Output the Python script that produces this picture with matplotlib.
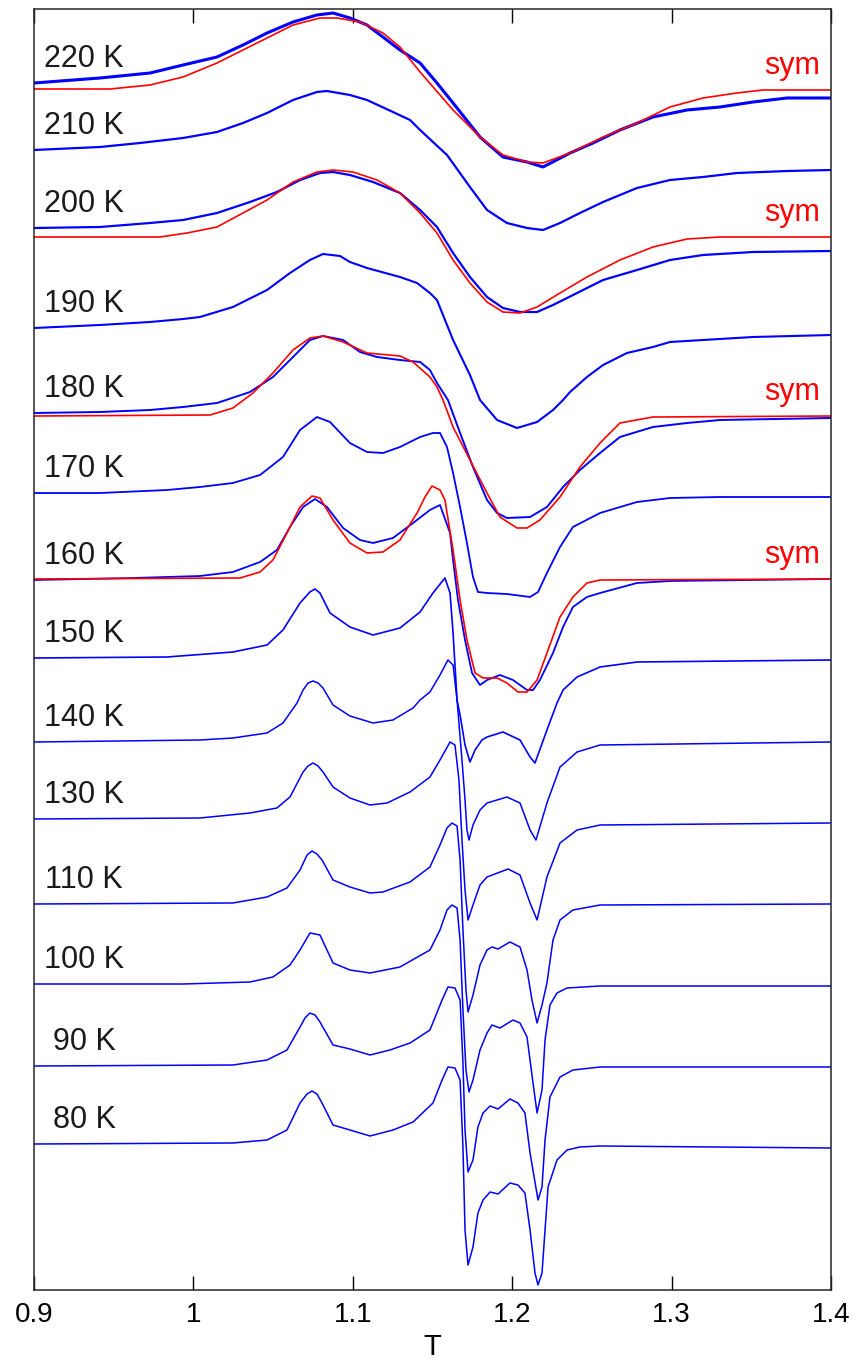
import numpy as np
import matplotlib.pyplot as plt

plt.rcParams['font.family'] = ['Liberation Sans', 'DejaVu Sans']

# spectra: field in T, signal (a.u.) relative to each
# trace's own left baseline; traces are stacked with the offsets below
x_220 = [0.9, 0.9414, 0.9728, 0.9935, 1.0148, 1.0311, 1.0462, 1.0625, 1.0775, 1.0876,
         1.0982, 1.1089, 1.1189, 1.1296, 1.1422, 1.1528, 1.1629, 1.1798, 1.1942, 1.2093,
         1.2193, 1.2363, 1.2507, 1.2676, 1.2883, 1.3097, 1.3304, 1.3511, 1.3724, 1.4]
s_220 = [0, 5, 10, 18, 26, 38, 50, 61, 68, 70,
         65, 58, 46, 33, 20, 0, -20, -54, -74, -79,
         -84, -70, -60, -47, -34, -27, -24, -19, -15, -15]

x_210 = [0.9, 0.9414, 0.9665, 0.9935, 1.0148, 1.0311, 1.0462, 1.0625, 1.0775, 1.0838,
         1.0982, 1.1089, 1.1252, 1.1359, 1.1422, 1.1503, 1.1591, 1.1735, 1.1842, 1.1967,
         1.2093, 1.2193, 1.2300, 1.2425, 1.2570, 1.2783, 1.2990, 1.3197, 1.3410, 1.3724, 1.4]
s_210 = [0, 3, 7, 12, 18, 27, 37, 50, 58, 59,
         55, 50, 38, 30, 20, 8, -5, -37, -60, -73,
         -78, -80, -73, -63, -52, -38, -30, -27, -23, -21, -20]

x_200 = [0.9, 0.9414, 0.9728, 0.9935, 1.0148, 1.0355, 1.0524, 1.0669, 1.0794, 1.0876,
         1.0982, 1.1127, 1.1296, 1.1422, 1.1528, 1.1629, 1.1735, 1.1842, 1.1942, 1.2049,
         1.2156, 1.2256, 1.2407, 1.2570, 1.2783, 1.2990, 1.3197, 1.3511, 1.4]
s_200 = [0, 1, 5, 8, 15, 26, 36, 48, 55, 56,
         53, 46, 35, 18, 1, -25, -49, -69, -80, -84,
         -84, -77, -65, -52, -42, -32, -27, -24, -23]

x_190 = [0.9, 0.9414, 0.9728, 0.9935, 1.0041, 1.0248, 1.0462, 1.0606, 1.0731, 1.0813,
         1.0920, 1.0982, 1.1089, 1.1296, 1.1403, 1.1484, 1.1528, 1.1629, 1.1735, 1.1798,
         1.1905, 1.2030, 1.2156, 1.2256, 1.2319, 1.2363, 1.2469, 1.2570, 1.2720, 1.2883,
         1.2990, 1.3197, 1.3511, 1.4]
s_190 = [0, 3, 6, 9, 11, 21, 38, 55, 68, 74,
         72, 66, 60, 51, 45, 35, 28, -12, -47, -72,
         -92, -100, -94, -82, -72, -64, -49, -37, -25, -19,
         -14, -12, -9, -7]

x_180 = [0.9, 0.9414, 0.9728, 0.9935, 1.0148, 1.0355, 1.0499, 1.0625, 1.0731, 1.0813,
         1.0939, 1.1045, 1.1152, 1.1296, 1.1422, 1.1484, 1.1528, 1.1597, 1.1673, 1.1754,
         1.1842, 1.1905, 1.1967, 1.2112, 1.2218, 1.2319, 1.2425, 1.2551, 1.2676, 1.2883,
         1.3097, 1.3304, 1.4]
s_180 = [0, 1, 3, 6, 10, 21, 36, 56, 73, 77,
         73, 61, 56, 53, 51, 43, 30, 13, -20, -54,
         -87, -100, -105, -104, -94, -74, -57, -40, -24, -14,
         -10, -7, -5]

x_170 = [0.9, 0.9414, 0.9834, 1.0041, 1.0248, 1.0418, 1.0562, 1.0669, 1.0775, 1.0857,
         1.0982, 1.1089, 1.1189, 1.1296, 1.1422, 1.1503, 1.1547, 1.1591, 1.1629, 1.1673,
         1.1716, 1.1754, 1.1785, 1.1842, 1.1967, 1.2112, 1.2162, 1.2218, 1.2300, 1.2381,
         1.2551, 1.2783, 1.2990, 1.3304, 1.4]
s_170 = [0, 0, 3, 6, 10, 18, 36, 63, 76, 71,
         50, 41, 40, 46, 56, 60, 60, 46, 20, -14,
         -50, -84, -99, -100, -101, -104, -99, -80, -54, -34,
         -20, -9, -5, -4, -4]

x_160 = [0.9, 0.9621, 1.0041, 1.0248, 1.0418, 1.0524, 1.0606, 1.0688, 1.0763, 1.0838,
         1.0939, 1.1045, 1.1127, 1.1252, 1.1378, 1.1484, 1.1547, 1.1610, 1.1629, 1.1660,
         1.1704, 1.1748, 1.1798, 1.1842, 1.1923, 1.2005, 1.2093, 1.2131, 1.2174, 1.2256,
         1.2319, 1.2381, 1.2469, 1.2551, 1.2783, 1.2990, 1.4]
s_160 = [0, 2, 4, 8, 18, 30, 53, 73, 81, 73,
         52, 40, 37, 42, 57, 70, 75, 47, 20, -20,
         -60, -93, -105, -100, -95, -100, -110, -110, -100, -73,
         -47, -27, -17, -13, -3, -1, 1]

x_150 = [0.9, 0.9834, 1.0248, 1.0462, 1.0562, 1.0669, 1.0731, 1.0763, 1.0794, 1.0857,
         1.0982, 1.1127, 1.1296, 1.1422, 1.1503, 1.1578, 1.1610, 1.1629, 1.1654, 1.1673,
         1.1704, 1.1735, 1.1767, 1.1810, 1.1842, 1.1942, 1.2049, 1.2112, 1.2143, 1.2218,
         1.2281, 1.2319, 1.2407, 1.2551, 1.2783, 1.4]
s_150 = [0, 1, 6, 13, 28, 55, 66, 69, 65, 45,
         31, 23, 30, 46, 65, 80, 65, 25, -42, -57,
         -87, -104, -92, -82, -79, -74, -82, -99, -105, -72,
         -45, -32, -19, -9, -4, -2]

x_140 = [0.9, 1.0041, 1.0248, 1.0462, 1.0562, 1.0650, 1.0688, 1.0719, 1.0750, 1.0782,
         1.0813, 1.0876, 1.0982, 1.1127, 1.1252, 1.1378, 1.1422, 1.1484, 1.1547, 1.1597,
         1.1629, 1.1654, 1.1685, 1.1704, 1.1716, 1.1729, 1.1754, 1.1798, 1.1842, 1.1967,
         1.2049, 1.2112, 1.2149, 1.2218, 1.2300, 1.2407, 1.2551, 1.4]
s_140 = [0, 2, 4, 9, 19, 39, 52, 59, 61, 59,
         54, 37, 26, 19, 22, 34, 42, 50, 67, 82,
         77, 42, -18, -58, -88, -98, -83, -68, -61, -55,
         -61, -88, -98, -61, -25, -10, -3, 0]

x_130 = [0.9, 1.0041, 1.0355, 1.0524, 1.0606, 1.0688, 1.0719, 1.0750, 1.0782, 1.0813,
         1.0876, 1.0982, 1.1108, 1.1215, 1.1359, 1.1484, 1.1547, 1.1610, 1.1641, 1.1666,
         1.1685, 1.1704, 1.1723, 1.1754, 1.1798, 1.1842, 1.1974, 1.2049, 1.2112, 1.2156,
         1.2218, 1.2300, 1.2407, 1.2551, 1.4]
s_130 = [0, 1, 6, 11, 22, 47, 53, 56, 53, 47,
         32, 21, 14, 16, 27, 42, 59, 77, 74, 39,
         -21, -71, -101, -86, -66, -58, -50, -56, -84, -101,
         -58, -24, -11, -6, -4]

x_110 = [0.9, 1.0248, 1.0462, 1.0587, 1.0669, 1.0713, 1.0744, 1.0775, 1.0807, 1.0876,
         1.0982, 1.1108, 1.1189, 1.1359, 1.1484, 1.1547, 1.1591, 1.1622, 1.1654, 1.1673,
         1.1691, 1.1710, 1.1723, 1.1754, 1.1798, 1.1842, 1.1873, 1.1911, 1.1986, 1.2049,
         1.2093, 1.2124, 1.2156, 1.2187, 1.2218, 1.2256, 1.2300, 1.2381, 1.2551, 1.4]
s_110 = [0, 1, 7, 16, 34, 49, 53, 50, 44, 24,
         17, 11, 12, 22, 37, 59, 76, 81, 78, 44,
         -26, -86, -108, -91, -61, -46, -43, -45, -38, -43,
         -66, -96, -119, -101, -79, -36, -16, -6, -1, 0]

x_100 = [0.9, 0.9935, 1.0355, 1.0499, 1.0606, 1.0669, 1.0731, 1.0794, 1.0876, 1.0982,
         1.1108, 1.1296, 1.1484, 1.1547, 1.1591, 1.1622, 1.1654, 1.1673, 1.1691, 1.1710,
         1.1729, 1.1754, 1.1798, 1.1842, 1.1873, 1.1923, 1.2005, 1.2049, 1.2093, 1.2124,
         1.2156, 1.2187, 1.2206, 1.2237, 1.2281, 1.2344, 1.2551, 1.4]
s_100 = [0, 0, 2, 7, 19, 34, 51, 49, 21, 14,
         11, 17, 34, 54, 74, 79, 76, 44, -26, -86,
         -108, -96, -66, -49, -41, -44, -36, -39, -53, -91,
         -129, -106, -56, -21, -9, -4, -2, -2]

x_90 = [0.9, 1.0248, 1.0462, 1.0587, 1.0669, 1.0700, 1.0731, 1.0763, 1.0794, 1.0876,
        1.0982, 1.1108, 1.1233, 1.1359, 1.1484, 1.1560, 1.1597, 1.1641, 1.1673, 1.1691,
        1.1704, 1.1723, 1.1754, 1.1785, 1.1817, 1.1861, 1.1911, 1.1986, 1.2036, 1.2080,
        1.2112, 1.2162, 1.2187, 1.2206, 1.2237, 1.2300, 1.2381, 1.2551, 1.4]
s_90 = [0, 1, 6, 16, 39, 48, 53, 51, 44, 21,
        17, 11, 16, 23, 36, 66, 79, 78, 66, 3,
        -64, -106, -94, -61, -47, -40, -43, -33, -37, -47,
        -87, -134, -121, -74, -31, -11, -4, -1, -1]

x_80 = [0.9, 1.0248, 1.0462, 1.0587, 1.0669, 1.0713, 1.0744, 1.0775, 1.0807, 1.0876,
        1.0982, 1.1108, 1.1252, 1.1378, 1.1503, 1.1560, 1.1597, 1.1641, 1.1673, 1.1691,
        1.1704, 1.1723, 1.1754, 1.1785, 1.1817, 1.1861, 1.1911, 1.1986, 1.2036, 1.2080,
        1.2112, 1.2143, 1.2162, 1.2187, 1.2206, 1.2225, 1.2281, 1.2344, 1.2425, 1.2551, 1.4]
s_80 = [0, 1, 4, 14, 41, 50, 53, 50, 41, 19,
        14, 8, 14, 22, 41, 64, 77, 76, 64, -3,
        -86, -121, -103, -69, -56, -48, -50, -39, -41, -49,
        -86, -129, -141, -129, -86, -43, -16, -6, -3, -2, -4]

# symmetric-lineshape fits (red), same offsets as the matching spectra
xf_220 = [0.9, 0.9477, 0.9728, 0.9935, 1.0148, 1.0311, 1.0462, 1.0625, 1.0794, 1.0901,
          1.1045, 1.1189, 1.1296, 1.1422, 1.1629, 1.1798, 1.1942, 1.2093, 1.2193, 1.2363,
          1.2570, 1.2783, 1.2990, 1.3197, 1.3410, 1.3573, 1.4]
sf_220 = [-6, -6, -2, 6, 20, 33, 45, 58, 65, 65,
          61, 50, 36, 11, -27, -54, -72, -79, -80, -70,
          -54, -40, -24, -15, -10, -7, -7]

xf_200 = [0.9, 0.9790, 0.9960, 1.0148, 1.0311, 1.0462, 1.0625, 1.0775, 1.0876, 1.1001,
          1.1152, 1.1296, 1.1422, 1.1528, 1.1629, 1.1735, 1.1842, 1.1942, 1.2049, 1.2156,
          1.2300, 1.2469, 1.2676, 1.2883, 1.3097, 1.3304, 1.4]
sf_200 = [-9, -9, -5, 1, 15, 28, 46, 56, 58, 56,
          48, 35, 15, -5, -32, -55, -74, -84, -85, -79,
          -65, -49, -32, -19, -11, -9, -9]

xf_180 = [0.9, 1.0104, 1.0248, 1.0374, 1.0499, 1.0625, 1.0731, 1.0813, 1.0939, 1.1089,
          1.1296, 1.1378, 1.1484, 1.1528, 1.1566, 1.1629, 1.1735, 1.1842, 1.1923, 1.2030,
          1.2093, 1.2174, 1.2300, 1.2425, 1.2551, 1.2676, 1.2883, 1.4]
sf_180 = [-3, -2, 5, 20, 40, 63, 75, 77, 71, 60,
          57, 51, 36, 26, 13, -14, -47, -80, -104, -115,
          -115, -107, -84, -54, -30, -10, -4, -3]

xf_160 = [0.9, 1.0292, 1.0418, 1.0499, 1.0587, 1.0669, 1.0744, 1.0794, 1.0876, 1.0982,
          1.1089, 1.1189, 1.1296, 1.1403, 1.1453, 1.1497, 1.1547, 1.1578, 1.1629, 1.1673,
          1.1716, 1.1767, 1.1817, 1.1905, 1.1967, 1.2036, 1.2093, 1.2156, 1.2218, 1.2300,
          1.2381, 1.2469, 1.2551, 1.4]
sf_160 = [1, 2, 8, 20, 47, 73, 84, 82, 60, 37,
          27, 28, 40, 67, 83, 94, 90, 80, 30, -20,
          -60, -93, -98, -98, -103, -112, -112, -100, -73, -37,
          -17, -3, 0, 1]

temps = ['220 K', '210 K', '200 K', '190 K', '180 K', '170 K', '160 K',
         '150 K', '140 K', '130 K', '110 K', '100 K', '90 K', '80 K']
offsets = [1207, 1140, 1062, 962, 877, 797, 710, 632, 548, 471, 386, 306, 224, 146]
spectra = [(x_220, s_220), (x_210, s_210), (x_200, s_200), (x_190, s_190),
           (x_180, s_180), (x_170, s_170), (x_160, s_160), (x_150, s_150),
           (x_140, s_140), (x_130, s_130), (x_110, s_110), (x_100, s_100),
           (x_90, s_90), (x_80, s_80)]
fits = {'220 K': (xf_220, sf_220), '200 K': (xf_200, sf_200),
        '180 K': (xf_180, sf_180), '160 K': (xf_160, sf_160)}

# the high-T traces are noisy, draw them a bit heavier
line_w = [2.2, 1.6, 1.6, 1.5, 1.4, 1.3, 1.3, 1.2, 1.1, 1.1, 1.1, 1.1, 1.1, 1.1]

fig = plt.figure(figsize=(8.56, 13.64), dpi=100)
ax = fig.add_axes([34 / 856, 74 / 1364, 797 / 856, 1281 / 1364])

for i, (xs, ss) in enumerate(spectra):
    y = offsets[i] + np.array(ss)
    ax.plot(xs, y, color='#0000ff', lw=line_w[i], solid_joinstyle='round')
    ax.text(0.9315, offsets[i] + 24, temps[i], ha='center', va='center',
            fontsize=22, color='#1a1a1a')

for i, t in enumerate(temps):
    if t in fits:
        xs, ss = fits[t]
        y = offsets[i] + np.array(ss)
        ax.plot(xs, y, color='#ff0000', lw=1.2, solid_joinstyle='round')
        ax.text(1.393, y[-1] + 16, 'sym', ha='right', va='baseline',
                fontsize=22, color='#ff0000')

ax.set_xlim(0.9, 1.4)
ax.set_ylim(0, 1281)
ax.set_xticks([0.9, 1.0, 1.1, 1.2, 1.3, 1.4])
ax.set_xticklabels(['0.9', '1', '1.1', '1.2', '1.3', '1.4'])
ax.set_yticks([])
ax.tick_params(axis='x', direction='in', top=True, length=10, width=1.0,
               labelsize=20, pad=9)
ax.set_xlabel('T', fontsize=21, labelpad=3)
for sp in ax.spines.values():
    sp.set_linewidth(1.1)
    sp.set_color('#262626')

fig.savefig('out.png', dpi=100)
